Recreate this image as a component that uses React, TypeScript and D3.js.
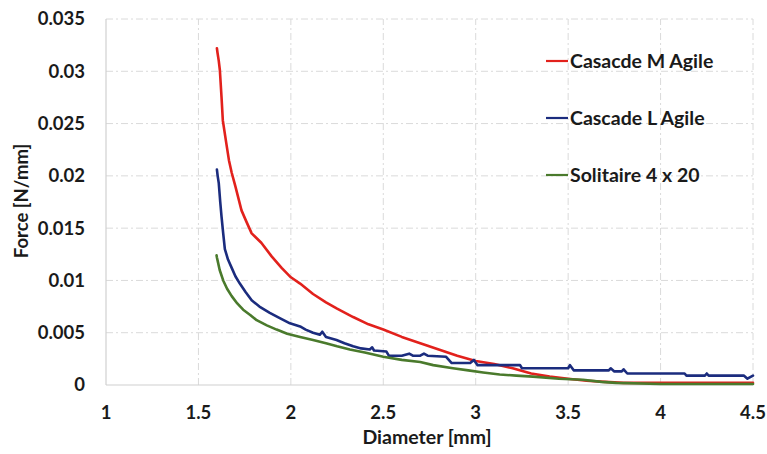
import React from 'react';
import * as d3 from 'd3';

// diameter [mm], force [N/mm]
const redD = [1.6, 1.603, 1.61, 1.616, 1.625, 1.632, 1.65, 1.665, 1.68, 1.7, 1.733, 1.76, 1.788, 1.84, 1.896, 1.95, 2.0, 2.05, 2.12, 2.19, 2.25, 2.337, 2.42, 2.5, 2.6, 2.7, 2.8, 2.9, 3.0, 3.1, 3.2, 3.3, 3.4, 3.5, 3.6, 3.7, 3.8, 4.0, 4.2, 4.4, 4.5];
const redF = [0.0322, 0.0318, 0.031, 0.0301, 0.0275, 0.0253, 0.0232, 0.0215, 0.0203, 0.019, 0.0167, 0.0156, 0.0145, 0.0136, 0.0123, 0.0112, 0.0103, 0.0097, 0.0087, 0.0079, 0.0073, 0.0065, 0.0058, 0.0053, 0.0046, 0.004, 0.0034, 0.0028, 0.0023, 0.002, 0.0016, 0.0011, 0.0008, 0.0006, 0.0004, 0.0003, 0.0002, 0.0002, 0.0002, 0.0002, 0.0002];

const blueD = [1.6, 1.604, 1.61, 1.618, 1.625, 1.634, 1.643, 1.66, 1.68, 1.7, 1.724, 1.755, 1.788, 1.83, 1.886, 1.94, 1.995, 2.05, 2.08, 2.12, 2.157, 2.17, 2.19, 2.247, 2.29, 2.337, 2.38, 2.427, 2.44, 2.45, 2.517, 2.53, 2.6, 2.64, 2.66, 2.7, 2.72, 2.74, 2.84, 2.87, 2.97, 2.99, 3.01, 3.24, 3.25, 3.5, 3.51, 3.53, 3.72, 3.73, 3.75, 3.79, 3.8, 3.82, 4.13, 4.14, 4.24, 4.25, 4.26, 4.45, 4.47, 4.49, 4.5];
const blueF = [0.0206, 0.02, 0.0193, 0.0175, 0.0161, 0.0145, 0.013, 0.012, 0.0112, 0.0104, 0.0097, 0.0089, 0.0081, 0.0075, 0.0069, 0.0064, 0.0059, 0.0056, 0.0053, 0.005, 0.0048, 0.0051, 0.0046, 0.0043, 0.004, 0.0037, 0.0035, 0.0034, 0.0036, 0.0033, 0.0032, 0.0028, 0.0028, 0.003, 0.0028, 0.0028, 0.003, 0.0028, 0.0027, 0.0021, 0.0021, 0.0024, 0.0019, 0.0019, 0.0016, 0.0016, 0.0019, 0.0014, 0.0014, 0.0016, 0.0013, 0.0013, 0.0015, 0.0011, 0.0011, 0.0009, 0.0009, 0.0011, 0.0009, 0.0009, 0.0006, 0.0008, 0.0009];

const greenD = [1.598, 1.6, 1.605, 1.615, 1.634, 1.655, 1.68, 1.71, 1.742, 1.78, 1.815, 1.87, 1.923, 1.98, 2.05, 2.12, 2.19, 2.25, 2.319, 2.4, 2.5, 2.6, 2.7, 2.77, 2.877, 2.96, 3.04, 3.13, 3.22, 3.31, 3.45, 3.58, 3.68, 3.76, 4.0, 4.5];
const greenF = [0.0124, 0.0122, 0.0118, 0.011, 0.01, 0.0092, 0.0085, 0.0078, 0.0072, 0.0067, 0.0062, 0.0057, 0.0053, 0.0049, 0.0046, 0.0043, 0.004, 0.0037, 0.0034, 0.0031, 0.0027, 0.0024, 0.0022, 0.0019, 0.0016, 0.0014, 0.0012, 0.001, 0.0009, 0.0008, 0.0006, 0.0005, 0.0003, 0.0002, 0.0001, 0.0001];

const seriesNames = ['Casacde M Agile', 'Cascade L Agile', 'Solitaire 4 x 20'];
const seriesColors = ['#e2211c', '#1b2c7e', '#4a7a2c'];
const xTicks = [1, 1.5, 2, 2.5, 3, 3.5, 4, 4.5];
const yTicks = [0, 0.005, 0.01, 0.015, 0.02, 0.025, 0.03, 0.035];

const W = 767;
const H = 454;
const margin = { top: 19, right: 14, bottom: 69, left: 106 };
const font = 'Lato, "Open Sans", sans-serif';

const App = () => {
  const x = d3.scaleLinear().domain([1, 4.5]).range([margin.left, W - margin.right]);
  const y = d3.scaleLinear().domain([0, 0.035]).range([H - margin.bottom, margin.top]);

  const line = d3
    .line<[number, number]>()
    .x((d) => x(d[0]))
    .y((d) => y(d[1]));

  const series = [
    redD.map((d, i) => [d, redF[i]] as [number, number]),
    blueD.map((d, i) => [d, blueF[i]] as [number, number]),
    greenD.map((d, i) => [d, greenF[i]] as [number, number]),
  ];

  const grid = '#dadada';
  const dash = '7,3,2,3';

  return (
    <svg width={W} height={H} style={{ position: 'absolute', left: 0, top: 0, background: '#fff' }}>
      {yTicks.slice(1).map((t) => (
        <line key={'gy' + t} x1={x(1)} x2={x(4.5)} y1={y(t)} y2={y(t)} stroke={grid} strokeDasharray={dash} />
      ))}
      {xTicks.slice(1).map((t) => (
        <line key={'gx' + t} x1={x(t)} x2={x(t)} y1={y(0)} y2={y(0.035)} stroke={grid} strokeDasharray={dash} />
      ))}
      <line x1={x(1)} x2={x(1)} y1={y(0)} y2={y(0.035)} stroke="#d0d0d0" strokeWidth={1.2} />
      <line x1={x(1)} x2={x(4.5)} y1={y(0)} y2={y(0)} stroke="#d0d0d0" strokeWidth={1.2} />

      {yTicks.map((t) => (
        <text key={'ty' + t} x={85} y={y(t)} dy="0.35em" textAnchor="end" fontFamily={font} fontWeight="bold" fontSize={18.5} fill="#1a1a1a">
          {d3.format('')(t)}
        </text>
      ))}
      {xTicks.map((t) => (
        <text key={'tx' + t} x={x(t)} y={413} dy="0.35em" textAnchor="middle" fontFamily={font} fontWeight="bold" fontSize={18.5} fill="#1a1a1a">
          {t}
        </text>
      ))}

      <text x={427} y={437} dy="0.35em" textAnchor="middle" fontFamily={font} fontWeight="bold" fontSize={19.5} fill="#1a1a1a">
        Diameter [mm]
      </text>
      <text transform="translate(22,201) rotate(-90)" dy="0.35em" textAnchor="middle" fontFamily={font} fontWeight="bold" fontSize={18.5} fill="#1a1a1a">
        Force [N/mm]
      </text>

      {series.map((s, i) => (
        <path key={'s' + i} d={line(s) || ''} fill="none" stroke={seriesColors[i]} strokeWidth={2.6} strokeLinejoin="round" strokeLinecap="round" />
      ))}

      {seriesNames.map((n, i) => (
        <g key={'lg' + i} transform={`translate(546,${61 + i * 57})`}>
          <line x1={0} x2={22} y1={0} y2={0} stroke={seriesColors[i]} strokeWidth={2.2} />
          <text x={24} y={0} dy="0.35em" fontFamily={font} fontWeight="bold" fontSize={19.5} fill="#1a1a1a">
            {n}
          </text>
        </g>
      ))}
    </svg>
  );
};

export default App;
